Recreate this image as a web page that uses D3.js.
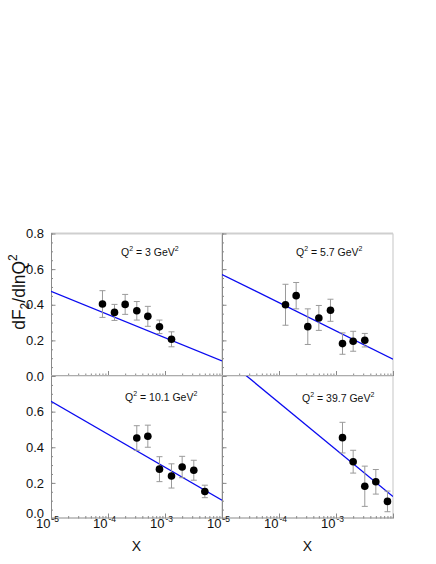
<!DOCTYPE html>
<html>
<head>
<meta charset="utf-8">
<script src="https://cdn.jsdelivr.net/npm/d3@7"></script>
<style>
  html, body { margin: 0; padding: 0; background: #fff; }
  svg { display: block; font-family: "Liberation Sans", Arial, sans-serif; }
</style>
</head>
<body>
<svg id="chart" width="436" height="564"></svg>
<script>
// ---- data ----
const q2Values = [3, 5.7, 10.1, 39.7];

const x1 = [8e-5, 1.3e-4, 2e-4, 3.2e-4, 5e-4, 8e-4, 1.3e-3];
const y1 = [0.404, 0.357, 0.402, 0.366, 0.335, 0.276, 0.206];
const e1 = [0.075, 0.045, 0.056, 0.052, 0.056, 0.038, 0.042];

const x2 = [1.3e-4, 2e-4, 3.2e-4, 5e-4, 8e-4, 1.3e-3, 2e-3, 3.2e-3];
const y2 = [0.400, 0.451, 0.277, 0.326, 0.369, 0.182, 0.195, 0.201];
const e2 = [0.115, 0.074, 0.100, 0.070, 0.062, 0.060, 0.056, 0.038];

const x3 = [3.2e-4, 5e-4, 8e-4, 1.3e-3, 2e-3, 3.2e-3, 5e-3];
const y3 = [0.452, 0.462, 0.277, 0.239, 0.289, 0.271, 0.152];
const e3 = [0.069, 0.062, 0.070, 0.068, 0.060, 0.056, 0.035];

const x4 = [1.3e-3, 2e-3, 3.2e-3, 5e-3, 8e-3];
const y4 = [0.454, 0.319, 0.181, 0.206, 0.096];
const e4 = [0.086, 0.064, 0.113, 0.069, 0.058];

// fit lines: value at x = 1e-5 and x = 1e-2
const fitX = [1e-5, 1e-2];
const fit1 = [0.475, 0.085];
const fit2 = [0.570, 0.094];
const fit3 = [0.658, 0.103];
const fit4 = [0.914, 0.123];

const yTicksMajor = [0, 0.2, 0.4, 0.6, 0.8];
const xTickLabels = [1e-5, 1e-4, 1e-3];
const xTickExps = ["-5", "-4", "-3"];

// ---- layout ----
const colX = [[51, 222], [222, 393]];
const rowY = [[233.5, 376], [376, 518.5]];
const panels = [
  {c: 0, r: 0, xs: x1, ys: y1, es: e1, fit: fit1, q: q2Values[0], lx: 70, ly: 22.5},
  {c: 1, r: 0, xs: x2, ys: y2, es: e2, fit: fit2, q: q2Values[1], lx: 74, ly: 22.5},
  {c: 0, r: 1, xs: x3, ys: y3, es: e3, fit: fit3, q: q2Values[2], lx: 74, ly: 25},
  {c: 1, r: 1, xs: x4, ys: y4, es: e4, fit: fit4, q: q2Values[3], lx: 80, ly: 25.5}
];

const svg = d3.select("#chart");
const axisGray = "#8a8a8a";
const edgeGray = "#cfcfcf";

panels.forEach((p, i) => {
  const [xa, xb] = colX[p.c];
  const [ya, yb] = rowY[p.r];
  const x = d3.scaleLog().domain([1e-5, 1e-2]).range([xa, xb]);
  const y = d3.scaleLinear().domain([0, 0.8]).range([yb, ya]);

  const g = svg.append("g");
  const clipId = "clip" + i;
  svg.append("defs").append("clipPath").attr("id", clipId)
    .append("rect").attr("x", xa).attr("y", ya).attr("width", xb - xa).attr("height", yb - ya);

  // top & right edges (light)
  g.append("line").attr("x1", xa).attr("x2", xb).attr("y1", ya).attr("y2", ya)
    .attr("stroke", edgeGray).attr("stroke-width", p.r === 0 ? 2 : 1);
  g.append("line").attr("x1", xb).attr("x2", xb).attr("y1", ya).attr("y2", yb)
    .attr("stroke", edgeGray).attr("stroke-width", 1.2);

  // y axis, ticks inside
  const yMinor = d3.range(0, 0.8001, 0.05);
  g.append("g").attr("transform", `translate(${xa},0)`)
    .call(d3.axisRight(y).tickValues(yMinor).tickSize(2).tickFormat(""))
    .call(s => s.select(".domain").remove())
    .call(s => s.selectAll("line").attr("stroke", axisGray));
  g.append("g").attr("transform", `translate(${xa},0)`)
    .call(d3.axisRight(y).tickValues(yTicksMajor).tickSize(4.5).tickFormat(""))
    .call(s => s.select(".domain").attr("stroke", axisGray).attr("d", `M0.5,${ya}V${yb}`))
    .call(s => s.selectAll("line").attr("stroke", axisGray));

  // x axis, ticks inside (pointing up)
  const xMinor = [];
  for (let d = -5; d < -2; d++) for (let k = 2; k <= 9; k++) xMinor.push(k * Math.pow(10, d));
  g.append("g").attr("transform", `translate(0,${yb})`)
    .call(d3.axisTop(x).tickValues(xMinor).tickSize(2.5).tickFormat(""))
    .call(s => s.select(".domain").remove())
    .call(s => s.selectAll("line").attr("stroke", axisGray));
  g.append("g").attr("transform", `translate(0,${yb})`)
    .call(d3.axisTop(x).tickValues([1e-5, 1e-4, 1e-3, 1e-2]).tickSize(5).tickFormat(""))
    .call(s => s.select(".domain").attr("stroke", axisGray).attr("d", `M${xa},-0.5H${xb}`))
    .call(s => s.selectAll("line").attr("stroke", axisGray));

  // y tick labels (left column only)
  if (p.c === 0) {
    const labs = p.r === 0 ? yTicksMajor : yTicksMajor.slice(0, 4).filter(v => v > 0);
    labs.forEach(v => {
      g.append("text").attr("x", xa - 7).attr("y", y(v)).attr("dy", "0.36em")
        .attr("text-anchor", "end").attr("font-size", 13).attr("fill", "#111")
        .text(d3.format(".1f")(v));
    });
    if (p.r === 1) {
      g.append("text").attr("x", xa - 7).attr("y", y(0) - 5.5).attr("dy", "0.36em")
        .attr("text-anchor", "end").attr("font-size", 13).attr("fill", "#111").text("0.0");
    }
  }

  // x tick labels (bottom row only)
  if (p.r === 1) {
    xTickLabels.forEach((v, k) => {
      g.append("text").attr("x", x(v) - 0.5).attr("y", yb + 9)
        .attr("text-anchor", "end").attr("font-size", 13).attr("fill", "#111").text("10");
      g.append("text").attr("x", x(v) + 0.5).attr("y", yb + 3)
        .attr("text-anchor", "start").attr("font-size", 8.5).attr("fill", "#111").text(xTickExps[k]);
    });
    g.append("text").attr("x", (xa + xb) / 2).attr("y", yb + 32.5)
      .attr("text-anchor", "middle").attr("font-size", 14).attr("fill", "#111").text("X");
  }

  // fit line
  const line = d3.line().x(d => x(d[0])).y(d => y(d[1]));
  g.append("path").datum(fitX.map((v, k) => [v, p.fit[k]]))
    .attr("clip-path", `url(#${clipId})`)
    .attr("d", line).attr("fill", "none").attr("stroke", "#0a0af0").attr("stroke-width", 1.3);

  // error bars
  const pts = p.xs.map((v, k) => ({x: v, y: p.ys[k], e: p.es[k]}));
  const eb = g.append("g").attr("stroke", "#9a9a9a").attr("stroke-width", 1);
  pts.forEach(d => {
    const cx = x(d.x), top = y(d.y + d.e), bot = y(d.y - d.e);
    eb.append("line").attr("x1", cx).attr("x2", cx).attr("y1", top).attr("y2", bot);
    eb.append("line").attr("x1", cx - 3).attr("x2", cx + 3).attr("y1", top).attr("y2", top);
    eb.append("line").attr("x1", cx - 3).attr("x2", cx + 3).attr("y1", bot).attr("y2", bot);
  });
  g.append("g").selectAll("circle").data(pts).join("circle")
    .attr("cx", d => x(d.x)).attr("cy", d => y(d.y)).attr("r", 3.8).attr("fill", "#000");

  // Q^2 label
  const t = g.append("text").attr("x", xa + p.lx).attr("y", ya + p.ly)
    .attr("font-size", 10.5).attr("fill", "#111");
  t.append("tspan").text("Q");
  t.append("tspan").attr("font-size", 7).attr("dy", -5).text("2");
  t.append("tspan").attr("dy", 5).text(" = " + p.q + " GeV");
  t.append("tspan").attr("font-size", 7).attr("dy", -5).text("2");
});

// y axis title
const yt = svg.append("text").attr("transform", "translate(25,292) rotate(-90)")
  .attr("text-anchor", "middle").attr("font-size", 17.5).attr("fill", "#111");
yt.append("tspan").text("dF");
yt.append("tspan").attr("font-size", 12).attr("dy", 4).text("2");
yt.append("tspan").attr("dy", -4).text("/dlnQ");
yt.append("tspan").attr("font-size", 12).attr("dy", -8).text("2");
</script>
</body>
</html>
